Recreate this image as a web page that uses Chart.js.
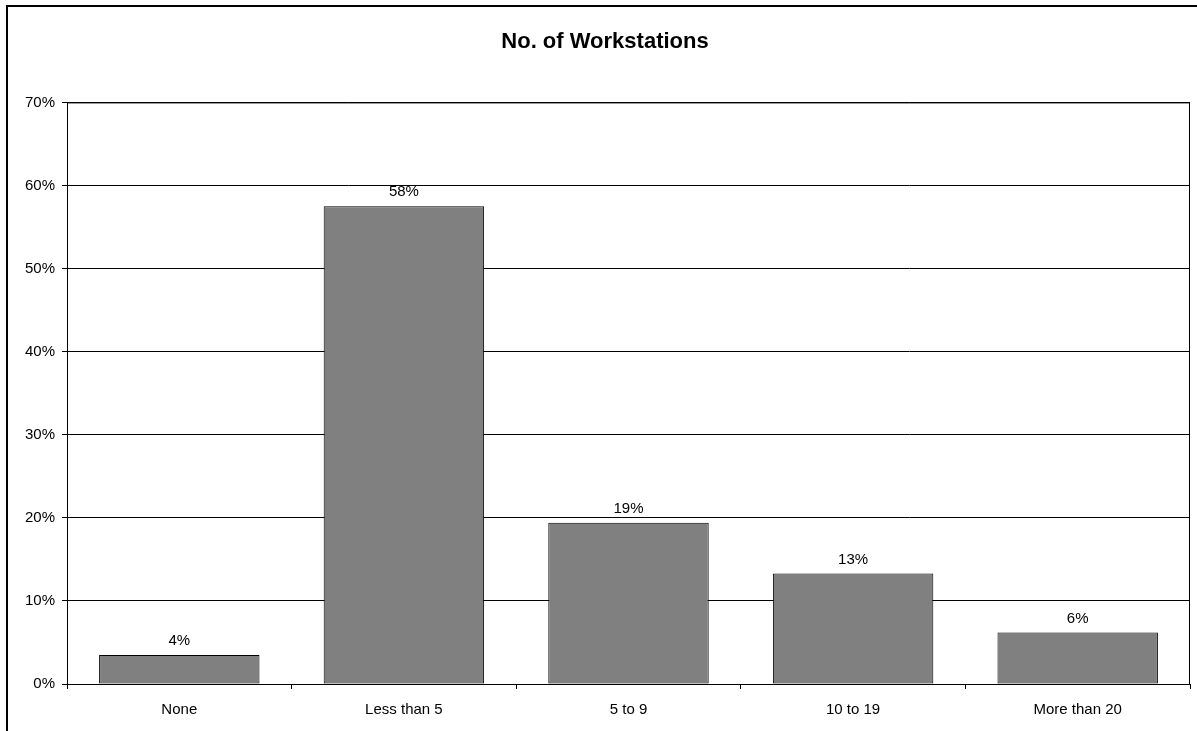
<!DOCTYPE html>
<html>
<head>
<meta charset="utf-8">
<style>
  html, body { margin: 0; padding: 0; background: #ffffff; }
  #wrap { width: 1197px; height: 731px; position: relative; }
</style>
<script src="https://cdn.jsdelivr.net/npm/chart.js@4.4.1/dist/chart.umd.min.js"></script>
</head>
<body>
<div id="wrap"><canvas id="chart" width="1197" height="731"></canvas></div>
<script>
// Number of workstations per respondent, share of responses (%)
const categories = ['None', 'Less than 5', '5 to 9', '10 to 19', 'More than 20'];
const shares = [3.5, 57.5, 19.4, 13.3, 6.2];
const yTicks = [0, 10, 20, 30, 40, 50, 60, 70];

const FONT = '"Liberation Sans", Arial, Helvetica, sans-serif';

// Outer frame around the whole chart and a border round the plot area
const framePlugin = {
  id: 'frame',
  afterDraw(chart) {
    const ctx = chart.ctx;
    const a = chart.chartArea;
    ctx.save();
    ctx.strokeStyle = '#000000';
    ctx.lineWidth = 1;
    ctx.strokeRect(a.left + 0.5, a.top + 0.5, a.right - a.left - 1, a.bottom - a.top);
    ctx.lineWidth = 2;
    ctx.strokeRect(7, 6, 1200, 740);
    ctx.restore();
  }
};

// Percentage label above each bar, taken from the bar's own value
const valueLabels = {
  id: 'valueLabels',
  afterDatasetsDraw(chart) {
    const ctx = chart.ctx;
    const meta = chart.getDatasetMeta(0);
    const data = chart.data.datasets[0].data;
    ctx.save();
    ctx.font = '15px ' + FONT;
    ctx.fillStyle = '#000000';
    ctx.textAlign = 'center';
    ctx.textBaseline = 'middle';
    meta.data.forEach((bar, i) => {
      ctx.fillText(Math.round(data[i]) + '%', bar.x, bar.y - 14);
    });
    ctx.restore();
  }
};

new Chart(document.getElementById('chart'), {
  type: 'bar',
  data: {
    labels: categories,
    datasets: [{
      data: shares,
      backgroundColor: '#808080',
      borderColor: '#000000',
      borderWidth: 1,
      borderSkipped: false,
      barPercentage: 1 / 1.4,
      categoryPercentage: 1
    }]
  },
  options: {
    responsive: false,
    animation: false,
    devicePixelRatio: 1,
    layout: { padding: { left: 20, right: 7, top: 0, bottom: 0 } },
    plugins: {
      legend: { display: false },
      tooltip: { enabled: false },
      title: {
        display: true,
        text: 'No. of Workstations',
        color: '#000000',
        font: { family: FONT, size: 22, weight: 'bold' },
        padding: { top: 29, bottom: 47 }
      }
    },
    scales: {
      x: {
        grid: {
          display: true,
          drawOnChartArea: false,
          drawTicks: true,
          tickLength: 5,
          color: '#000000',
          offset: true
        },
        border: { display: true, color: '#000000', width: 1 },
        ticks: {
          color: '#000000',
          font: { family: FONT, size: 15 },
          padding: 12,
          maxRotation: 0,
          autoSkip: false
        },
        afterFit(scale) { scale.height = 47; }
      },
      y: {
        min: 0,
        max: 70,
        afterBuildTicks(scale) {
          scale.ticks = yTicks.map(v => ({ value: v }));
        },
        grid: {
          color: '#000000',
          lineWidth: 1,
          drawTicks: true,
          tickLength: 5
        },
        border: { display: true, color: '#000000', width: 1 },
        ticks: {
          color: '#000000',
          font: { family: FONT, size: 15 },
          padding: 7,
          callback: v => v + '%'
        },
        afterFit(scale) { scale.width = 47; }
      }
    }
  },
  plugins: [framePlugin, valueLabels]
});
</script>
</body>
</html>
